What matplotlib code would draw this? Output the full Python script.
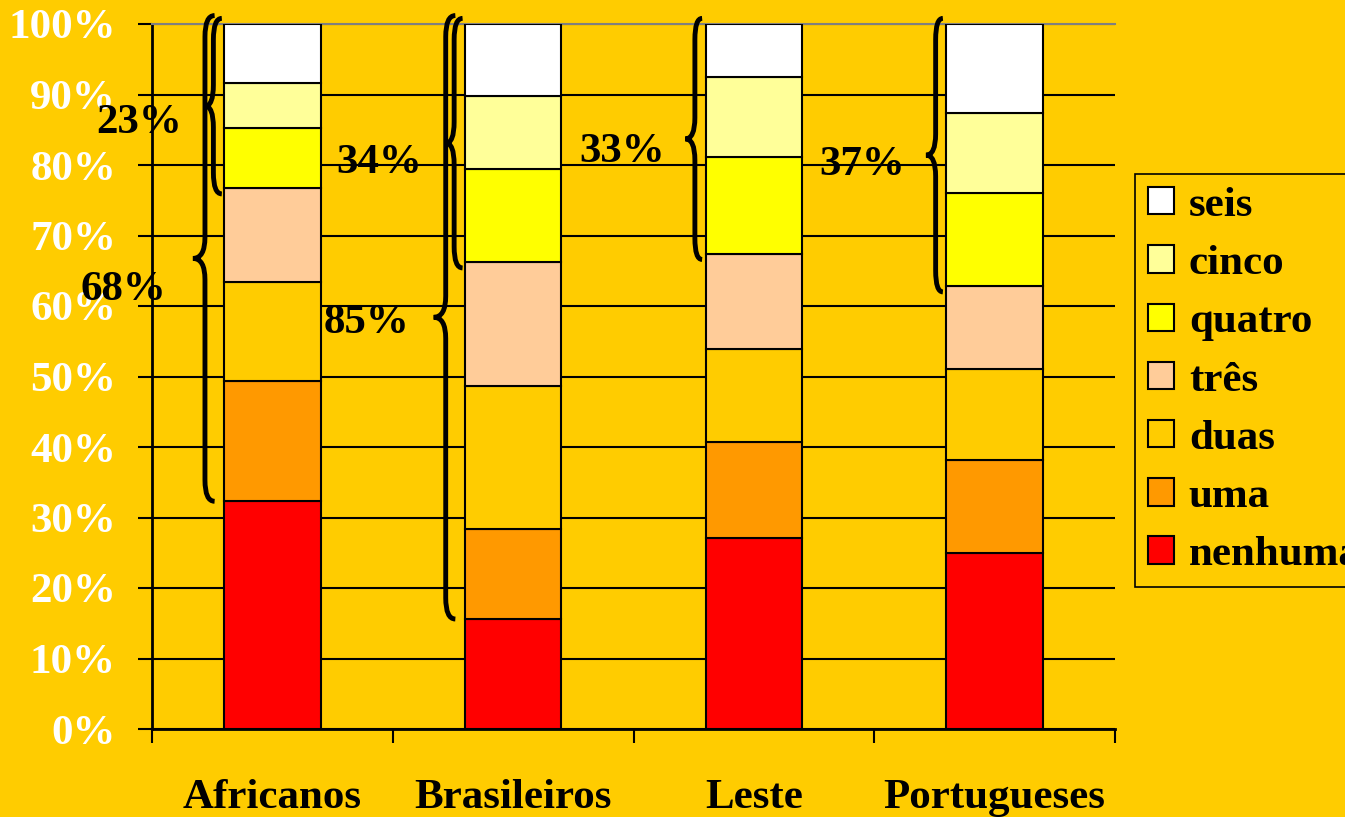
import numpy as np
import matplotlib
matplotlib.use("Agg")
import matplotlib.pyplot as plt
from matplotlib.path import Path
from matplotlib.patches import PathPatch

plt.rcParams['font.family'] = ['Liberation Serif', 'DejaVu Serif']
plt.rcParams['font.weight'] = 'bold'

# dados (% por grupo)
grupos = ['Africanos', 'Brasileiros', 'Leste', 'Portugueses']
categorias = ['nenhuma', 'uma', 'duas', 'três', 'quatro', 'cinco', 'seis']
nenhuma = [32.3, 15.6, 27.1, 25.0]
uma = [17.1, 12.8, 13.6, 13.2]
duas = [14.0, 20.3, 13.2, 12.9]
tres = [13.3, 17.5, 13.5, 11.7]
quatro = [8.5, 13.2, 13.7, 13.2]
cinco = [6.4, 10.4, 11.4, 11.4]
seis = [8.4, 10.2, 7.5, 12.6]
cores = ['#FF0000', '#FF9900', '#FFCC00', '#FFCC99', '#FFFF00', '#FFFF99', '#FFFFFF']

# chavetas: (grupo, segmento inicial, texto, posição do texto dx, y)
chavetas_grandes = [(0, 1, '68%', -0.617, 62.3), (1, 1, '85%', -0.607, 57.6)]
chavetas_peq = [(0, 4, '23%', -0.554, 86.0), (1, 4, '34%', -0.557, 80.3),
                (2, 4, '33%', -0.548, 81.8), (3, 4, '37%', -0.551, 80.0)]

fundo = '#FFCC00'
fs = 31
fig = plt.figure(figsize=(13.45, 8.17), dpi=100, facecolor=fundo)
ax = fig.add_axes([152/1345, 88/817, 963/1345, 705/817])
ax.set_facecolor(fundo)

valores = np.array([nenhuma, uma, duas, tres, quatro, cinco, seis])
x = np.arange(len(grupos))
base = np.zeros(len(grupos))
for i, cat in enumerate(categorias):
    ax.bar(x, valores[i], 0.4, bottom=base, color=cores[i], edgecolor='black',
           linewidth=1.5, label=cat, zorder=3)
    base += valores[i]
acum = np.cumsum(valores, axis=0)

ax.set_xlim(-0.5, 3.5)
ax.set_ylim(0, 100)
ax.set_yticks(np.arange(0, 101, 10))
ax.set_yticklabels([f'{v}%' for v in range(0, 101, 10)], color='white', fontsize=fs)
ax.yaxis.grid(True, color='black', linewidth=1.5, zorder=1)
ax.set_axisbelow(True)
ax.tick_params(axis='y', length=10, width=1.5, pad=16)

ax.set_xticks(np.arange(-0.5, 4, 1))
ax.set_xticklabels([])
ax.set_xticks(x, minor=True)
ax.set_xticklabels(grupos, minor=True, fontsize=fs)
ax.tick_params(axis='x', which='major', length=10, width=1.5, direction='out')
ax.tick_params(axis='x', which='minor', length=0, pad=36)

for s in ['left', 'bottom']:
    ax.spines[s].set_linewidth(2)
ax.spines['top'].set_color('grey')
ax.spines['top'].set_linewidth(1.5)
ax.spines['right'].set_visible(False)


def chaveta(xe, xm, xc, y0, y1):
    ym = (y0 + y1) / 2
    r = 3.0
    verts = [(xe, y0), (xm, y0), (xm, y0 + r), (xm, ym - r), (xm, ym), (xc, ym),
             (xm, ym), (xm, ym + r), (xm, y1 - r), (xm, y1), (xe, y1)]
    codes = [Path.MOVETO, Path.CURVE3, Path.CURVE3, Path.LINETO, Path.CURVE3, Path.CURVE3,
             Path.CURVE3, Path.CURVE3, Path.LINETO, Path.CURVE3, Path.CURVE3]
    ax.add_patch(PathPatch(Path(verts, codes), fill=False, lw=3.5, edgecolor='black',
                           clip_on=False, zorder=5))


for g, k, txt, dx, ty in chavetas_grandes:
    y0 = acum[k - 1][g]
    chaveta(g - 0.24, g - 0.28, g - 0.33, y0, 101.2)
    ax.text(g + dx, ty, txt, ha='center', va='center', fontsize=fs, zorder=6)
for g, k, txt, dx, ty in chavetas_peq:
    y0 = acum[k - 1][g] - 0.8
    if g < 2:
        chaveta(g - 0.21, g - 0.245, g - 0.28, y0, 100.8)
    else:
        chaveta(g - 0.215, g - 0.245, g - 0.285, y0, 100.8)
    ax.text(g + dx, ty, txt, ha='center', va='center', fontsize=fs, zorder=6)

h, l = ax.get_legend_handles_labels()
leg = fig.legend(h[::-1], l[::-1], loc='upper left', bbox_to_anchor=(1135/1345, 1 - 174/817),
                 fontsize=fs, frameon=True, fancybox=False, facecolor=fundo, edgecolor='black',
                 handlelength=0.6, handleheight=0.6, handletextpad=0.35, labelspacing=0.47,
                 borderpad=0.3, borderaxespad=0)
leg.get_frame().set_linewidth(1.2)
leg.get_frame().set_alpha(None)

fig.savefig('out.png', dpi=100, facecolor=fundo)
